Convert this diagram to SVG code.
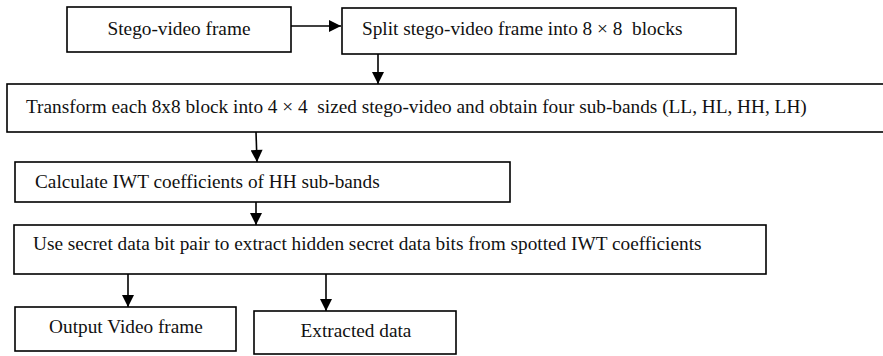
<svg xmlns="http://www.w3.org/2000/svg" width="883" height="356" viewBox="0 0 883 356">
<defs>
<style>
.box{fill:#fff;stroke:#000;stroke-width:1.6}
.t{font-family:"Liberation Serif","Times New Roman",serif;font-size:19.3px;fill:#111;white-space:pre}
.c{stroke:#000;stroke-width:1.6;fill:none}
</style>
<marker id="ah" viewBox="0 0 12 12" refX="12" refY="6" markerWidth="13" markerHeight="12" markerUnits="userSpaceOnUse" orient="auto">
<path d="M0,0 L12,6 L0,12 Z" fill="#000"/>
</marker>
</defs>
<rect width="883" height="356" fill="#fff"/>
<g id="connectors">
<line class="c" x1="291" y1="26" x2="341" y2="26" marker-end="url(#ah)"/>
<line class="c" x1="378" y1="54" x2="378" y2="84" marker-end="url(#ah)"/>
<line class="c" x1="256" y1="132" x2="257" y2="162" marker-end="url(#ah)"/>
<line class="c" x1="256" y1="202" x2="256" y2="225" marker-end="url(#ah)"/>
<line class="c" x1="128" y1="274" x2="128" y2="307" marker-end="url(#ah)"/>
<line class="c" x1="326" y1="274" x2="326" y2="311" marker-end="url(#ah)"/>
</g>
<g id="n_stego">
<rect class="box" x="67" y="7" width="224" height="45"/>
<text class="t" x="179" y="35" text-anchor="middle">Stego-video frame</text>
</g>
<g id="n_split">
<rect class="box" x="342" y="8" width="394" height="46"/>
<text class="t" x="362" y="35" xml:space="preserve">Split stego-video frame into 8 × 8  blocks</text>
</g>
<g id="n_transform">
<rect class="box" x="7" y="84" width="900" height="48"/>
<text class="t" x="26" y="113" xml:space="preserve">Transform each 8x8 block into 4 × 4  sized stego-video and obtain four sub-bands (LL, HL, HH, LH)</text>
</g>
<g id="n_calc">
<rect class="box" x="15" y="162" width="495" height="40"/>
<text class="t" x="35" y="188">Calculate IWT coefficients of HH sub-bands</text>
</g>
<g id="n_use">
<rect class="box" x="14" y="225" width="752" height="49"/>
<text class="t" x="33" y="250">Use secret data bit pair to extract hidden secret data bits from spotted IWT coefficients</text>
</g>
<g id="n_output">
<rect class="box" x="15" y="307" width="221" height="44"/>
<text class="t" x="126" y="333" text-anchor="middle">Output Video frame</text>
</g>
<g id="n_extracted">
<rect class="box" x="254" y="311" width="202" height="43"/>
<text class="t" x="356" y="337" text-anchor="middle">Extracted data</text>
</g>
</svg>
